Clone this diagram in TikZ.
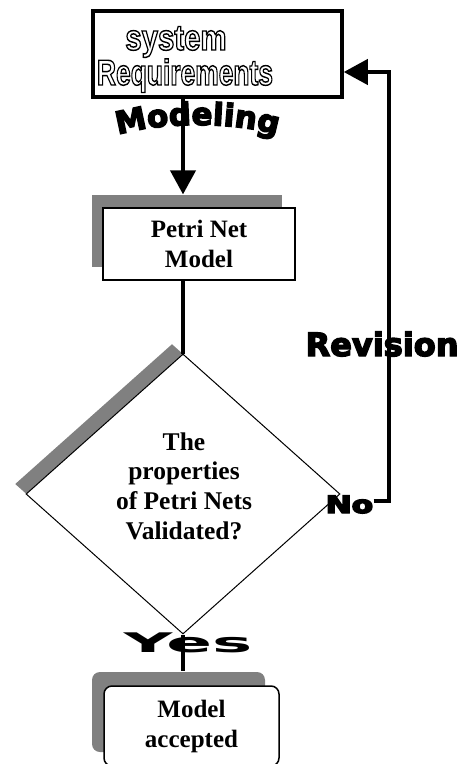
\documentclass[tikz,border=0pt]{standalone}
\usepackage{fontspec}
\setmainfont{Liberation Serif}
\setsansfont{Liberation Sans}
\newfontfamily\heavyfont{DejaVu Sans}
\usetikzlibrary{arrows.meta, positioning, shapes.geometric, decorations.text}
\definecolor{cshade}{HTML}{808080}
% stroked (hollow) and fattened lettering
\newcommand{\hollow}[1]{\special{pdf:literal direct 1 Tr 1.2 w}#1\special{pdf:literal direct 0 Tr}}
\newcommand{\heavy}[1]{\special{pdf:literal direct 2 Tr 1.4 w}#1\special{pdf:literal direct 0 Tr}}
\tikzset{
  every picture/.style={x=1pt, y=-1pt, line width=1.2pt},
  box/.style={draw=black, fill=white, align=center, inner sep=0pt, font=\bfseries\fontsize{25}{30}\selectfont},
  backdrop/.style={fill=cshade, draw=none, inner sep=0pt},
  flow/.style={draw=black, line width=4pt},
  arrow/.style={flow, -{Triangle[length=24pt, width=25pt]}},
  tag/.style={font=\heavyfont\bfseries\fontsize{#1}{#1}\selectfont, inner sep=0pt, anchor=base west},
  reqword/.style={font=\sffamily\bfseries\fontsize{30}{30}\selectfont, inner sep=0pt, anchor=base},
}

\begin{document}
\begin{tikzpicture}
  \useasboundingbox[fill=white] (0,0) rectangle (465,764);
  % requirements box
  \node[box, line width=3.5pt, minimum width=249pt, minimum height=86pt] (sysreq) at (217.5,54) {};
  \node[reqword] (sysword) at (176,50) {\hollow{\scalebox{0.98}[1.2]{system}}};
  \node[reqword] (reqword) at (185,85) {\hollow{\scalebox{0.88}[1.2]{Requirements}}};

  % petri net model
  \node[backdrop, minimum width=190pt, minimum height=72pt] (petrishadow) at (187,231) {};
  \node[box, line width=1.5pt, minimum width=192pt, minimum height=72pt] (petri) at (199,244) {Petri Net\\Model};

  % decision
  \node[backdrop, diamond, minimum width=314pt, minimum height=280pt] (validshadow) at (172,484) {};
  \node[diamond, draw=black, fill=white, line width=1pt, inner sep=0pt, minimum width=314pt, minimum height=280pt] (valid) at (183,494) {};
  \node[align=center, inner sep=0pt, font=\bfseries\fontsize{25.5}{29.7}\selectfont] (validtext) at (184,486) {The\\properties\\of Petri Nets\\Validated?};

  % accepted
  \node[backdrop, rounded corners=8pt, minimum width=173pt, minimum height=80pt] (acceptedshadow) at (178.5,712) {};
  \node[box, rounded corners=8pt, line width=1.5pt, minimum width=175pt, minimum height=80pt] (accepted) at (191.5,726) {Model\\accepted};

  % labels
  \path[decorate, decoration={text along path, text align=center,
      text={|\heavyfont\bfseries\fontsize{31}{31}\selectfont\special{pdf:literal direct 2 Tr 1.4 w}|Modeling}}]
    (104,140) .. controls (150,120) and (245,120) .. (291,140);
  \node[tag=32] (revision) at (305,356) {\heavy{Revision}};
  \node[tag=24] (no) at (325,513) {\heavy{\scalebox{1.3}[1]{No}}};
  \node[tag=27, anchor=base] (yes) at (188,652) {\scalebox{2.5}[1]{Yes}};

  \coordinate (revbottom) at (389,501);
  \coordinate (revtop) at (389,72);
  \draw[arrow] (sysreq.south -| valid.north) -- (petrishadow.north -| valid.north);
  \draw[flow] (petri.south -| valid.north) -- (valid.north);
  \draw[flow] (valid.south) -- (valid.south |- acceptedshadow.north);
  \draw[arrow] (no.east |- revbottom) -- (revbottom) -- (revtop) -- (sysreq.east |- revtop);
\end{tikzpicture}
\end{document}
